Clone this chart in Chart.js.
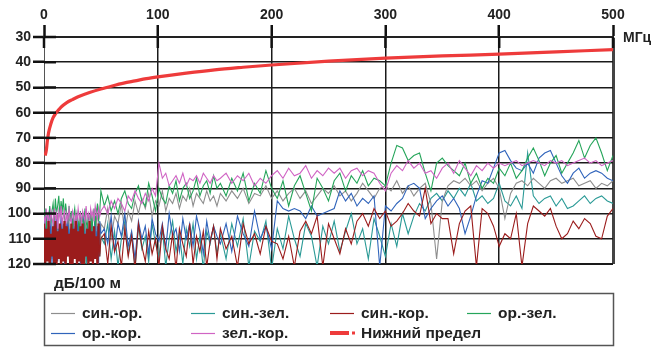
<!DOCTYPE html>
<html>
<head>
<meta charset="utf-8">
<script src="https://cdn.jsdelivr.net/npm/chart.js@4.4.1/dist/chart.umd.min.js"></script>
<style>
  html, body { margin: 0; padding: 0; background: #fff; }
  #wrap { width: 654px; height: 347px; }
</style>
</head>
<body>
<div id="wrap"><canvas id="chart" width="654" height="347"></canvas></div>
<script>
// frequency grid, MHz
const freq = [
  0,1,2,3,4,5,6,7,8,9,10,11,12,13,14,15,16,17,18,19,20,21,22,23,24,25,
  26,27,28,29,30,31,32,33,34,35,36,37,38,39,40,41,42,43,44,45,46,47,48,49,50,
  53,56,59,62,65,68,71,74,77,80,83,86,89,92,95,98,101,104,107,110,
  113,116,119,122,125,128,131,134,137,140,143,146,149,152,
  155,160,165,170,175,180,185,190,195,200,205,210,215,220,225,230,235,240,245,250,
  255,260,265,270,275,280,285,290,295,300,305,310,315,320,325,330,335,340,345,350,
  355,360,365,370,375,380,385,390,395,400,405,410,415,420,425,430,435,440,445,450,
  455,460,465,470,475,480,485,490,495,500
];

// attenuation, dB/100 m
const sinOr = [
  99,110,103,116,101,112,104,118,102,109,105,117,100,111,106,119,103,113,101,115,
  104,110,102,117,106,112,100,114,105,118,103,109,101,116,104,111,99,113,106,117,
  102,108,100,114,105,110,98,112,103,116,104,
  106,98,110,101,104,96,108,99,103,95,100,94,98,92,101,95,97,91,99,94,
  96,92,98,93,95,90,97,92,94,96,91,95,93,97,
  92,95,91,94,90,96,92,93,89,94,91,95,92,90,94,91,96,93,90,92,
  89,93,91,95,92,88,91,94,90,89,91,87,92,89,93,90,88,96,118,95,
  89,87,88,86,89,87,91,88,86,90,102,92,88,87,89,86,88,90,87,86,
  88,87,86,89,88,87,90,88,89,87
];
const sinZel = [
  108,120,112,118,106,121,110,117,113,122,107,119,111,116,109,121,114,118,106,120,
  112,117,108,122,110,119,113,116,107,121,111,118,109,120,114,117,106,122,112,119,
  108,116,110,121,113,118,107,120,111,117,109,
  112,104,118,107,121,110,103,116,108,122,105,114,109,119,104,112,117,106,121,110,
  103,115,108,120,106,113,104,118,109,122,107,112,105,116,
  108,118,104,113,102,121,107,111,103,122,106,114,101,110,117,104,109,121,105,112,
  103,115,107,100,112,106,118,102,109,117,104,113,100,108,101,96,99,94,92,95,
  91,94,90,93,88,95,93,96,94,88,95,97,93,98,76,93,96,94,93,97,
  94,98,97,95,93,96,94,93,95,96
];
const sinKor = [
  104,121,106,119,103,122,108,117,105,121,103,120,107,118,104,122,106,119,103,121,
  105,117,108,120,104,122,106,118,103,121,107,119,105,120,104,122,108,117,106,121,
  103,119,107,120,105,118,109,121,104,117,110,
  108,120,105,115,111,121,106,117,109,122,104,113,119,107,116,110,121,105,114,118,
  108,122,106,112,117,104,120,109,115,107,121,111,105,118,
  106,114,109,121,104,112,108,116,105,111,112,118,109,121,107,103,108,101,121,104,
  110,116,106,112,103,100,105,98,102,99,105,103,100,96,99,101,90,104,100,102,
  102,116,104,99,97,121,98,100,105,113,108,110,100,121,104,97,99,101,98,105,
  110,108,103,106,102,104,109,110,101,98
];
const orZel = [
  102,98,106,100,108,97,104,99,96,103,94,100,97,93,101,95,99,94,102,96,
  100,104,97,103,99,106,101,98,105,100,103,107,99,104,101,108,98,103,106,100,
  104,99,107,102,98,105,100,96,103,99,91,
  97,93,99,95,100,94,91,96,98,92,89,95,97,88,93,99,90,94,96,89,
  92,87,95,90,88,94,91,86,93,89,87,92,85,90,
  88,93,86,91,84,95,88,92,83,90,94,87,97,89,85,92,99,86,90,95,
  87,84,91,85,88,83,89,86,87,89,80,73,74,79,77,76,84,91,80,78,
  81,83,85,80,88,84,90,86,88,82,85,80,86,83,78,74,79,85,80,77,
  84,80,76,71,78,73,70,76,83,77
];
const orKor = [
  103,110,101,118,105,112,100,121,107,104,111,102,119,106,109,101,115,104,120,103,
  108,100,113,106,122,102,110,105,117,101,109,104,121,103,112,100,116,107,105,119,
  102,111,104,118,106,101,113,105,120,103,108,
  106,112,101,115,104,109,100,113,107,118,103,110,105,116,102,108,111,104,114,100,
  109,106,115,102,110,104,113,101,107,116,103,111,105,109,
  112,104,115,101,108,113,99,110,105,114,95,98,99,98,99,102,97,101,100,99,
  98,91,95,92,97,94,96,93,121,97,99,96,94,89,88,90,102,98,95,93,
  97,94,98,108,101,93,87,88,82,76,75,79,82,83,80,84,78,76,75,80,
  85,88,84,82,86,84,83,84,86,87
];
const zelKor = [
  101,104,98,103,100,105,99,102,104,98,103,100,106,99,102,97,104,101,99,105,
  100,103,98,102,104,99,101,105,100,103,98,102,100,104,99,101,103,97,102,100,
  104,98,101,99,103,97,100,102,98,101,99,
  97,100,95,98,94,96,99,93,95,91,94,96,92,95,90,93,80,86,84,89,
  87,85,88,84,89,86,87,85,88,84,86,88,85,87,
  86,84,88,85,87,84,89,86,88,85,83,86,82,85,84,81,86,83,85,82,
  84,82,86,83,82,85,83,84,88,91,84,81,83,79,82,80,84,83,86,82,
  80,84,79,82,85,81,83,80,82,80,81,80,79,81,80,79,80,81,79,80,
  79,81,80,79,78,80,79,81,80,79
];

// lower limit curve
const limitFreq = [1,2,3,4,6,8,10,15,20,25,30,40,50,60,70,80,90,100,125,150,175,200,250,300,350,400,450,500];
const limitVals = [77,75,71,68,64.5,62,60.5,57.8,56,54.8,53.7,52,50.6,49.4,48.3,47.4,46.5,45.8,44.3,43,42,41.1,39.6,38.4,37.5,36.8,35.9,35];

const seriesNames = ['син.-ор.', 'син.-зел.', 'син.-кор.', 'ор.-зел.', 'ор.-кор.', 'зел.-кор.', 'Нижний предел'];
const seriesColors = ['#8e8e8e', '#2a9a96', '#9b1c1c', '#25a55a', '#3064bb', '#d064c4', '#ee3b3b'];
// higher number is drawn first (underneath); the legend is drawn by hand
const drawOrder = [5, 6, 1, 3, 4, 2, 0];
const xTicks = [0, 100, 200, 300, 400, 500];

const FONT = '"Liberation Sans", Arial, sans-serif';

function pts(xs, ys) {
  return ys.map((v, i) => ({ x: xs[i], y: v }));
}

const seriesData = [sinOr, sinZel, sinKor, orZel, orKor, zelKor];
const datasets = seriesData.map((vals, i) => ({
  label: seriesNames[i],
  data: pts(freq, vals),
  borderColor: seriesColors[i],
  borderWidth: 1.1,
  pointRadius: 0,
  tension: 0,
  order: drawOrder[i]
}));
// the dense low-frequency part of син.-кор. looks like a solid band
datasets[2].segment = {
  borderWidth: ctx => ctx.p1.parsed.x <= 48 ? 2.2 : 1.1
};
datasets.push({
  label: seriesNames[6],
  data: pts(limitFreq, limitVals),
  borderColor: seriesColors[6],
  borderWidth: 3.2,
  pointRadius: 0,
  cubicInterpolationMode: 'monotone',
  order: drawOrder[6]
});

// thick tick stubs inside the plot, unit labels and the boxed legend
const decorPlugin = {
  id: 'decor',
  afterDraw(chart) {
    const ctx = chart.ctx;
    const a = chart.chartArea;
    const xs = chart.scales.x, ys = chart.scales.y;
    ctx.save();
    ctx.strokeStyle = '#111';
    ctx.lineWidth = 2.5;
    ys.ticks.forEach(t => {
      const y = ys.getPixelForValue(t.value);
      ctx.beginPath(); ctx.moveTo(a.left, y); ctx.lineTo(a.left + 12, y); ctx.stroke();
    });
    xs.ticks.forEach(t => {
      const x = xs.getPixelForValue(t.value);
      ctx.beginPath(); ctx.moveTo(x, a.top); ctx.lineTo(x, a.top + 11); ctx.stroke();
    });

    ctx.fillStyle = '#222';
    ctx.font = 'bold 14px ' + FONT;
    ctx.textBaseline = 'middle';
    ctx.textAlign = 'left';
    ctx.fillText('МГц', 623, 38);
    ctx.font = 'bold 15.5px ' + FONT;
    ctx.fillText('дБ/100 м', 54, 284);

    // legend box
    ctx.strokeStyle = '#555';
    ctx.lineWidth = 1.5;
    ctx.strokeRect(44.5, 293.5, 569, 52);
    const cols = [51, 191, 330, 467];
    const rows = [313, 333];
    seriesNames.forEach((name, i) => {
      const cx = cols[i % 4], cy = rows[Math.floor(i / 4)];
      ctx.strokeStyle = seriesColors[i];
      if (i === 6) {
        ctx.lineWidth = 4;
        ctx.beginPath(); ctx.moveTo(cx, cy); ctx.lineTo(cx + 19, cy); ctx.stroke();
        ctx.fillStyle = seriesColors[i];
        ctx.fillRect(cx + 22, cy - 1.5, 3, 3);
      } else {
        ctx.lineWidth = 1.2;
        ctx.beginPath(); ctx.moveTo(cx, cy + 0.5); ctx.lineTo(cx + 24, cy + 0.5); ctx.stroke();
      }
      ctx.fillStyle = '#222';
      ctx.font = 'bold 15.5px ' + FONT;
      ctx.fillText(name, cx + 31, cy + 1);
    });
    ctx.restore();
  }
};

new Chart(document.getElementById('chart').getContext('2d'), {
  type: 'line',
  data: { datasets: datasets },
  options: {
    responsive: false,
    animation: false,
    events: [],
    layout: { padding: { left: 0, right: 41, top: 0, bottom: 83 } },
    plugins: { legend: { display: false }, tooltip: { enabled: false } },
    scales: {
      x: {
        type: 'linear',
        position: 'top',
        min: 0,
        max: 500,
        afterFit: s => { s.height = 37; },
        afterBuildTicks: s => { s.ticks = xTicks.map(v => ({ value: v })); },
        ticks: {
          padding: 1,
          maxRotation: 0,
          color: '#222',
          font: { family: FONT, size: 14, weight: 'bold' }
        },
        grid: {
          color: ctx => ctx.tick && ctx.tick.value === 0 ? '#666' : (ctx.tick && ctx.tick.value === 500 ? '#444' : '#1a1a1a'),
          lineWidth: ctx => ctx.tick && ctx.tick.value === 500 ? 3 : (ctx.tick && ctx.tick.value === 0 ? 1 : 1.5),
          tickLength: 12,
          tickWidth: 2.5,
          tickColor: '#111'
        },
        border: { display: true, color: '#222', width: 2 }
      },
      y: {
        reverse: true,
        min: 30,
        max: 120,
        afterFit: s => { s.width = 44; },
        ticks: {
          stepSize: 10,
          padding: 2,
          color: '#222',
          font: { family: FONT, size: 14, weight: 'bold' }
        },
        grid: {
          color: '#1a1a1a',
          lineWidth: ctx => ctx.tick && (ctx.tick.value === 120 || ctx.tick.value === 30) ? 2 : 1.5,
          tickLength: 11,
          tickWidth: 2.5,
          tickColor: '#111'
        },
        border: { display: true, color: '#555', width: 1 }
      }
    }
  },
  plugins: [decorPlugin]
});
</script>
</body>
</html>
